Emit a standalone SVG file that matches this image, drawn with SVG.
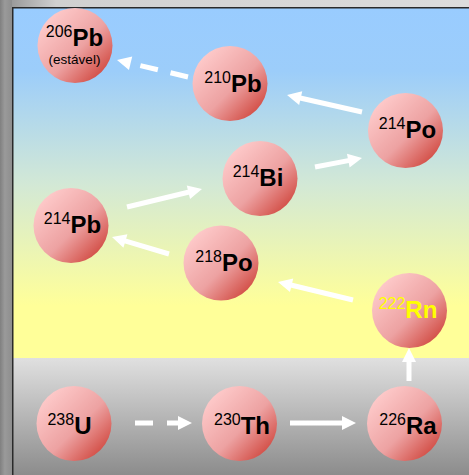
<svg xmlns="http://www.w3.org/2000/svg" width="469" height="475" viewBox="0 0 469 475">
  <defs>
    <linearGradient id="sky" x1="0" y1="8" x2="0" y2="358" gradientUnits="userSpaceOnUse">
      <stop offset="0" stop-color="#99ccff"/>
      <stop offset="0.18" stop-color="#9ccdfa"/>
      <stop offset="0.5" stop-color="#d2e8d6"/>
      <stop offset="0.85" stop-color="#ffff99"/>
      <stop offset="1" stop-color="#ffff99"/>
    </linearGradient>
    <linearGradient id="ground" x1="0" y1="358" x2="0" y2="475" gradientUnits="userSpaceOnUse">
      <stop offset="0" stop-color="#e0e0e0"/>
      <stop offset="1" stop-color="#8c8c8c"/>
    </linearGradient>
    <linearGradient id="topbar" x1="0" y1="0" x2="1" y2="0">
      <stop offset="0" stop-color="#8c8c8c"/>
      <stop offset="0.12" stop-color="#d0d0d0"/>
      <stop offset="1" stop-color="#dcdcdc"/>
    </linearGradient>
    <linearGradient id="leftbar" x1="0" y1="0" x2="1" y2="0">
      <stop offset="0" stop-color="#808080"/>
      <stop offset="0.4" stop-color="#9a9a9a"/>
      <stop offset="1" stop-color="#8e8e8e"/>
    </linearGradient>
    <linearGradient id="ball" x1="0.15" y1="0.15" x2="0.95" y2="0.95">
      <stop offset="0" stop-color="#fdc8c8"/>
      <stop offset="0.5" stop-color="#eda2a2"/>
      <stop offset="1" stop-color="#cc3a30"/>
    </linearGradient>
    <marker id="head" markerUnits="userSpaceOnUse" markerWidth="14" markerHeight="14" refX="4" refY="0" orient="auto" overflow="visible">
      <path d="M0,-7 L14,0 L0,7 Z" fill="#ffffff"/>
    </marker>
    <style>
      .ball { fill: url(#ball); }
      .lbl { font-family: "Liberation Sans", Arial, sans-serif; fill: #000000; text-anchor: middle; }
      .sup { font-size: 16px; }
      .el { font-size: 24px; font-weight: bold; }
      .note { font-size: 13.5px; }
      .rn { fill: #ffff00; }
      .arrow { stroke: #ffffff; stroke-width: 5; fill: none; marker-end: url(#head); }
      .dash { stroke-dasharray: 18 13; }
    </style>
  </defs>

  <!-- background -->
  <rect x="0" y="0" width="469" height="475" fill="#9a9a9a"/>
  <rect x="0" y="0" width="469" height="7" fill="url(#topbar)"/>
  <rect x="0" y="0" width="12" height="475" fill="url(#leftbar)"/>
  <rect x="13" y="8" width="456" height="350" fill="url(#sky)"/>
  <rect x="13" y="358" width="456" height="117" fill="url(#ground)"/>
  <rect x="12" y="7" width="457" height="1.5" fill="#2a2a2a"/>
  <rect x="12" y="7" width="1.5" height="468" fill="#2a2a2a"/>

  <!-- connectors -->
  <g id="connectors">
    <line class="arrow dash" x1="188" y1="77" x2="126.7" y2="62.3"/>
    <line class="arrow" x1="362" y1="112" x2="296.8" y2="97.2"/>
    <line class="arrow" x1="315" y1="167" x2="352.2" y2="159.9"/>
    <line class="arrow" x1="127" y1="207" x2="192.3" y2="191.3"/>
    <line class="arrow" x1="169" y1="254" x2="121.6" y2="239.9"/>
    <line class="arrow" x1="353" y1="300" x2="287.7" y2="284.3"/>
    <line class="arrow" x1="409" y1="381" x2="409" y2="358"/>
    <line class="arrow" x1="135" y1="423" x2="182" y2="423" stroke-dasharray="18 14"/>
    <line class="arrow" x1="290" y1="423" x2="346" y2="423"/>
  </g>

  <!-- nodes -->
  <g id="pb206">
    <circle class="ball" cx="75" cy="45.5" r="37.5"/>
    <text class="lbl" x="74.5" y="46"><tspan class="sup" dy="-9">206</tspan><tspan class="el" dy="9">Pb</tspan></text>
    <text class="lbl note" x="74.5" y="63.5">(estável)</text>
  </g>
  <g id="pb210">
    <circle class="ball" cx="230" cy="83.5" r="37.5"/>
    <text class="lbl" x="233" y="92"><tspan class="sup" dy="-9">210</tspan><tspan class="el" dy="9">Pb</tspan></text>
  </g>
  <g id="po214">
    <circle class="ball" cx="405.5" cy="130.5" r="37.5"/>
    <text class="lbl" x="407.5" y="138"><tspan class="sup" dy="-9">214</tspan><tspan class="el" dy="9">Po</tspan></text>
  </g>
  <g id="bi214">
    <circle class="ball" cx="260" cy="178.5" r="37.5"/>
    <text class="lbl" x="258" y="186"><tspan class="sup" dy="-9">214</tspan><tspan class="el" dy="9">Bi</tspan></text>
  </g>
  <g id="pb214">
    <circle class="ball" cx="71" cy="225.5" r="37.5"/>
    <text class="lbl" x="72.5" y="233"><tspan class="sup" dy="-9">214</tspan><tspan class="el" dy="9">Pb</tspan></text>
  </g>
  <g id="po218">
    <circle class="ball" cx="221" cy="263" r="37.5"/>
    <text class="lbl" x="224" y="271"><tspan class="sup" dy="-9">218</tspan><tspan class="el" dy="9">Po</tspan></text>
  </g>
  <g id="rn222">
    <circle class="ball" cx="409.5" cy="310.5" r="37.5"/>
    <text class="lbl rn" x="408" y="318"><tspan class="sup" dy="-9">222</tspan><tspan class="el" dy="9">Rn</tspan></text>
  </g>
  <g id="u238">
    <circle class="ball" cx="74" cy="423.5" r="37.5"/>
    <text class="lbl" x="69.5" y="434"><tspan class="sup" dy="-9">238</tspan><tspan class="el" dy="9">U</tspan></text>
  </g>
  <g id="th230">
    <circle class="ball" cx="239.5" cy="423.5" r="37.5"/>
    <text class="lbl" x="242" y="434"><tspan class="sup" dy="-9">230</tspan><tspan class="el" dy="9">Th</tspan></text>
  </g>
  <g id="ra226">
    <circle class="ball" cx="404.5" cy="423.5" r="37.5"/>
    <text class="lbl" x="408" y="434"><tspan class="sup" dy="-9">226</tspan><tspan class="el" dy="9">Ra</tspan></text>
  </g>
</svg>
